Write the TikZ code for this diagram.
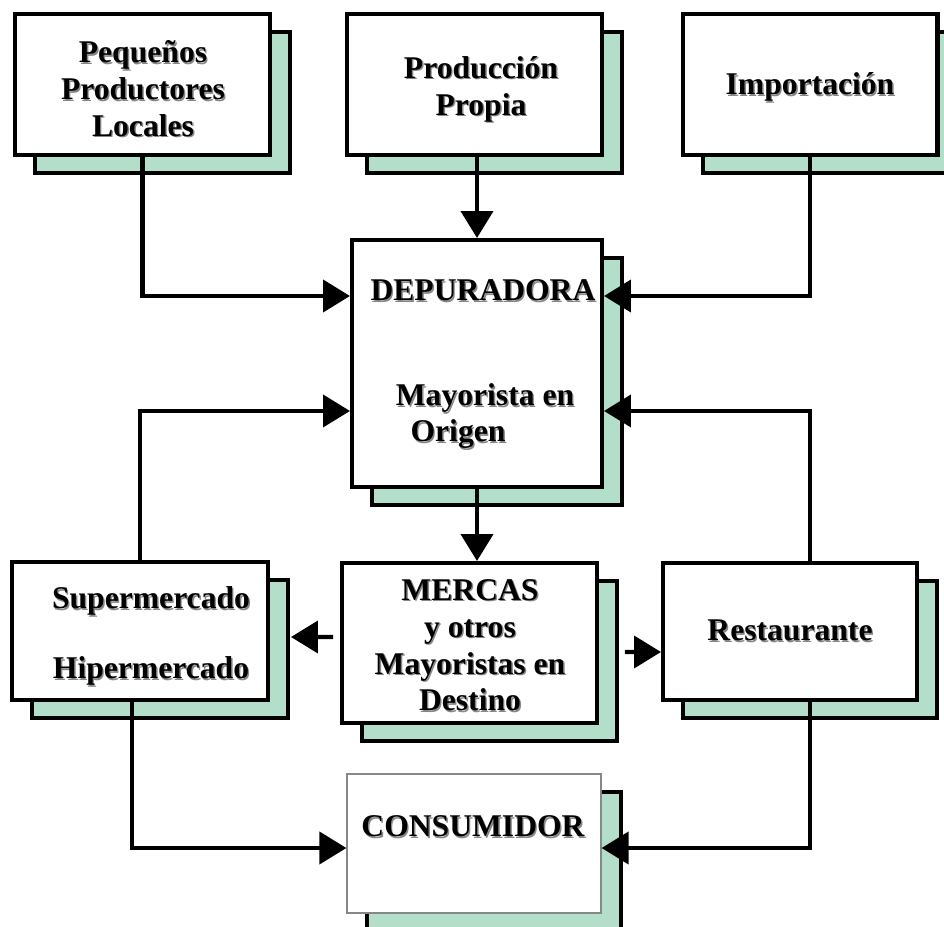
\documentclass[tikz,border=0pt]{standalone}
\usepackage{fontspec}
\setmainfont{Liberation Serif}
\usetikzlibrary{arrows.meta,shadows}
\definecolor{verdesombra}{RGB}{178,222,202}
\definecolor{grissombra}{RGB}{135,135,135}
\newcommand{\relieve}[1]{\leavevmode\rlap{\textcolor{grissombra}{\kern0.8pt\raisebox{-0.8pt}{#1}}}#1}
\tikzset{
  caja/.style={draw=black, line width=2.3pt, fill=white, inner sep=0pt,
    minimum width=5.1cm, minimum height=2.82cm,
    copy shadow={shadow xshift=0.4cm, shadow yshift=-0.36cm,
      fill=verdesombra, draw=black, line width=2.3pt}},
  texto/.style={font=\bfseries\fontsize{18}{21}\selectfont, align=center},
  flecha/.style={line width=2.3pt, -{Triangle[length=0.54cm,width=0.64cm]}},
}
\begin{document}
\begin{tikzpicture}[x=0.02cm, y=-0.02cm]
  \useasboundingbox (0,0) rectangle (944,927);

  % Origen del producto
  \node[caja] (pq) at (142.5,84.5) {};
  \node[texto] (tpq) at (143,89.5) {\relieve{Pequeños}\\\relieve{Productores}\\\relieve{Locales}};
  \node[caja] (pr) at (474.5,84.5) {};
  \node[texto] (tpr) at (481,90) {\relieve{Producción}\\\relieve{Propia}};
  \node[caja] (im) at (810,84.5) {};
  \node[texto] (tim) at (810,88) {\relieve{Importación}};

  % Depuradora
  \node[caja, minimum width=5cm, minimum height=4.94cm] (dep) at (477,363.5) {};
  \node[texto] (tdep) at (483,291) {\relieve{DEPURADORA}};
  \node[texto] (tmay) at (485,399) {\relieve{Mayorista en}};
  \node[texto] (tori) at (458,435) {\relieve{Origen}};

  % Distribución
  \node[caja, minimum height=3.2cm] (mer) at (469.5,643) {};
  \node[texto] (tmer) at (470,646) {\relieve{MERCAS}\\\relieve{y otros}\\\relieve{Mayoristas en}\\\relieve{Destino}};
  \node[caja, minimum width=5.12cm, minimum height=2.76cm] (sup) at (140,631) {};
  \node[texto] (tsup) at (151,602) {\relieve{Supermercado}};
  \node[texto] (thip) at (151,672) {\relieve{Hipermercado}};
  \node[caja, texto, minimum width=5.08cm, minimum height=2.74cm] (res) at (790,631.5) {\relieve{Restaurante}};

  % Consumidor
  \node[caja, draw=grissombra, line width=0.7pt, minimum width=5.08cm, minimum height=2.78cm] (con) at (474,843.5) {};
  \node[texto] (tcon) at (473,827) {\relieve{CONSUMIDOR}};

  % Flechas
  \draw[flecha] (pq.south) |- ([yshift=-1.16cm]dep.north west);
  \draw[flecha] (dep.north |- pr.south) -- (dep.north);
  \draw[flecha] (im.south) |- ([yshift=-1.16cm]dep.north east);
  \draw[flecha] (sup.north) |- ([yshift=-3.46cm]dep.north west);
  \draw[flecha] (res.north -| im.south) |- ([yshift=-3.46cm]dep.north east);
  \draw[flecha] (dep.south) -- (dep.south |- mer.north);
  \draw[flecha] ([xshift=-0.14cm,yshift=0.12cm]mer.west) -- ([xshift=0.42cm,yshift=-0.12cm]sup.east);
  \draw[flecha] ([xshift=0.52cm,yshift=-0.18cm]mer.east) -- ([yshift=-0.41cm]res.west);
  \draw[flecha] ([xshift=-0.16cm]sup.south) |- ([yshift=-0.09cm]con.west);
  \draw[flecha] (res.south -| im.south) |- ([yshift=-0.09cm]con.east);
\end{tikzpicture}
\end{document}
